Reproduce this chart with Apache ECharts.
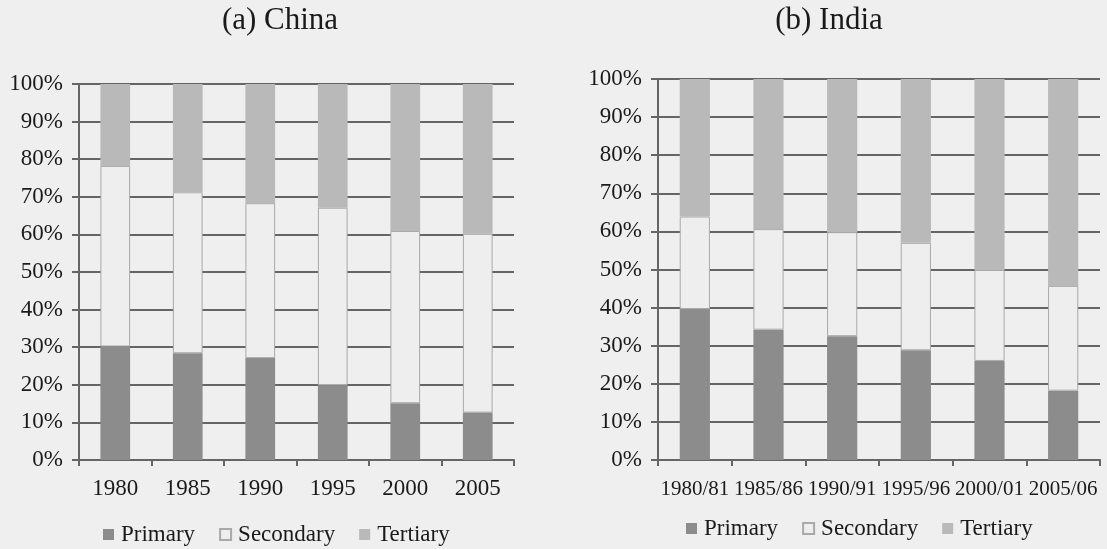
<!DOCTYPE html>
<html>
<head>
<meta charset="utf-8">
<script src="https://cdn.jsdelivr.net/npm/echarts@6/dist/echarts.min.js"></script>
<style>
  html, body { margin: 0; padding: 0; background: #efefef; }
  #chart { width: 1107px; height: 549px; }
</style>
</head>
<body>
<div id="chart"></div>
<script>
// Sector shares of GDP (%), China and India
const chinaYears = ['1980', '1985', '1990', '1995', '2000', '2005'];
const chinaPrimary = [30.2, 28.4, 27.1, 19.9, 15.1, 12.6];
const chinaSecondary = [48.0, 42.8, 41.2, 47.2, 45.8, 47.6];
const chinaTertiary = [21.8, 28.8, 31.7, 32.9, 39.1, 39.8];

const indiaYears = ['1980/81', '1985/86', '1990/91', '1995/96', '2000/01', '2005/06'];
const indiaPrimary = [39.6, 34.2, 32.5, 28.8, 26.0, 18.2];
const indiaSecondary = [24.3, 26.4, 27.3, 28.2, 23.9, 27.5];
const indiaTertiary = [36.1, 39.4, 40.2, 43.0, 50.1, 54.3];

const yTicks = [0, 10, 20, 30, 40, 50, 60, 70, 80, 90, 100];
const sectorNames = ['Primary', 'Secondary', 'Tertiary'];

const SERIF = '"Liberation Serif", "DejaVu Serif", serif';
const INK = '#1a1a1a';
const LINE = '#656565';
const COLORS = { Primary: '#8c8c8c', Secondary: '#eeeeee', Tertiary: '#b9b9b9' };

function xAxisFor(gridIndex, cats, fontSize, margin) {
  return {
    type: 'category', gridIndex, data: cats,
    axisLine: { lineStyle: { color: LINE, width: 2 } },
    axisTick: { show: true, length: 6, lineStyle: { color: LINE, width: 2 } },
    axisLabel: { color: INK, fontFamily: SERIF, fontSize, margin, interval: 0, hideOverlap: false }
  };
}
function yAxisFor(gridIndex) {
  return {
    type: 'value', gridIndex, min: yTicks[0], max: yTicks[yTicks.length - 1], interval: 10,
    axisLine: { show: true, lineStyle: { color: LINE, width: 2 } },
    axisTick: { show: true, length: 7, lineStyle: { color: LINE, width: 2 } },
    splitLine: { lineStyle: { color: LINE, width: 2 } },
    axisLabel: { color: INK, fontFamily: SERIF, fontSize: 23, margin: 16, formatter: v => v + '%' }
  };
}
function seriesFor(idx, stack, values) {
  return sectorNames.map((name, i) => ({
    name, type: 'bar', stack, xAxisIndex: idx, yAxisIndex: idx,
    barWidth: '41%', data: values[i],
    itemStyle: name === 'Secondary'
      ? { color: COLORS[name], borderColor: '#a9a9a9', borderWidth: 1 }
      : { color: COLORS[name] }
  }));
}
const legendStyle = {
  data: sectorNames, icon: 'rect', itemWidth: 11, itemHeight: 11, itemGap: 24,
  textStyle: { color: INK, fontFamily: SERIF, fontSize: 23, padding: [0, 0, 0, 2] }
};

const chart = echarts.init(document.getElementById('chart'), null, { renderer: 'canvas' });
chart.setOption({
  backgroundColor: '#efefef',
  animation: false,
  title: [
    { text: '(a) China', left: 275, top: 0, textAlign: 'center',
      textStyle: { color: INK, fontFamily: SERIF, fontSize: 31, fontWeight: 'normal' } },
    { text: '(b) India', left: 824, top: 0, textAlign: 'center',
      textStyle: { color: INK, fontFamily: SERIF, fontSize: 31, fontWeight: 'normal' } }
  ],
  legend: [
    Object.assign({ left: 98, top: 518 }, legendStyle),
    Object.assign({ left: 681, top: 512 }, legendStyle)
  ],
  grid: [
    { left: 79, right: 593, top: 84, bottom: 89 },
    { left: 658, right: 7, top: 79, bottom: 89 }
  ],
  xAxis: [xAxisFor(0, chinaYears, 23, 17), xAxisFor(1, indiaYears, 21, 19)],
  yAxis: [yAxisFor(0), yAxisFor(1)],
  series: [
    ...seriesFor(0, 'china', [chinaPrimary, chinaSecondary, chinaTertiary]),
    ...seriesFor(1, 'india', [indiaPrimary, indiaSecondary, indiaTertiary])
  ]
});
</script>
</body>
</html>
